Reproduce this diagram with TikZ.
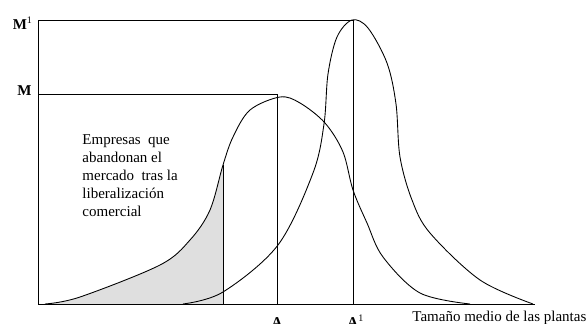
\documentclass[tikz,border=0pt]{standalone}
\usepackage{fontspec}
\setmainfont{Liberation Serif}
\begin{document}
\begin{tikzpicture}[x=0.8pt,y=0.8pt,line width=0.7pt,
    font=\fontsize{12}{14.4}\selectfont,
    lbl/.style={inner sep=0pt,anchor=base}]
  \useasboundingbox (-38,-19) rectangle (549,304);
  \coordinate (O) at (0,0);
  \coordinate (A) at (239,0);
  \coordinate (A1) at (315,0);
  \coordinate (M) at (0,210);
  \coordinate (M1) at (0,284);
  \coordinate (cut) at (185,0);
  % shaded tail of the first distribution
  \begin{scope}
    \clip (O) rectangle (185,300);
    \fill[gray!25] plot[smooth,tension=0.55] coordinates {(7,0) (42,7) (122,39) (152,64) (172,94) (185,139) (195,167) (212,194) (242,207) (262,201) (287,181) (305,152) (315,114) (329,81) (345,47) (382,11) (432,0)} -- cycle;
  \end{scope}
  % axes and guide lines
  \draw (M1) -- (O) -- (497,0);
  \draw (M) -| (A);
  \draw (M1) -| (A1);
  \draw (cut) -- (185,139);
  % curves
  \draw plot[smooth,tension=0.55] coordinates {(7,0) (42,7) (122,39) (152,64) (172,94) (185,139) (195,167) (212,194) (242,207) (262,201) (287,181) (305,152) (315,114) (329,81) (345,47) (382,11) (432,0)};
  \draw plot[smooth,tension=0.55] coordinates {(145,0) (185,12) (240,59) (275,131) (286,180) (290,230) (299,267) (314,284) (330,276) (349,241) (358,200) (362,147) (374,104) (392,71) (442,24) (495,0)};
  % labels
  \node[lbl,anchor=base east] (lblM1) at (-5,275) {\textbf{M}\textsuperscript{1}};
  \node[lbl,anchor=base east] (lblM) at (-6,209) {\textbf{M}};
  \node[lbl] (lblA) at (A |- 0,-23) {\textbf{A}};
  \node[lbl,anchor=base west] (lblA1) at (309,-23) {\textbf{A}\textsuperscript{1}};
  \node[lbl,anchor=base west] (lblx) at (374,-17) {Tamaño medio de las plantas};
  \node[lbl,anchor=north west,align=left] (lbltxt) at (44,170)
    {Empresas\ \ que\\abandonan el\\mercado\ \ tras la\\liberalización\\comercial};
\end{tikzpicture}
\end{document}
